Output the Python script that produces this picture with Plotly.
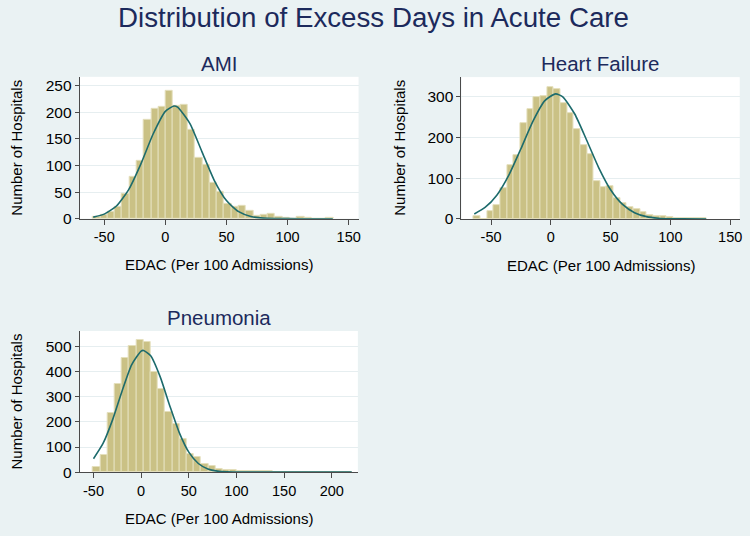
import numpy as np
import plotly.graph_objects as go

# ---------------- data ----------------
panels = ["AMI", "Heart Failure", "Pneumonia"]

# histogram bins: first bin left edge and bin width (EDAC units)
ami_bin_start, ami_bin_width = -59.2, 5.96
hf_bin_start, hf_bin_width = -64.3, 5.56
pn_bin_start, pn_bin_width = -50.4, 7.55

ami_counts = [4, 8, 13, 22, 47, 79, 109, 186, 207, 210, 241, 212, 214, 167, 114, 101,
              68, 51, 28, 23, 25, 15, 6, 8, 9, 4, 1, 0.5, 3, 1, 0, 0, 1]
hf_counts = [8, 0, 20, 35, 75, 131, 156, 234, 270, 298, 302, 324, 319, 285, 260, 221,
             182, 158, 93, 77, 80, 50, 40, 30, 23, 18, 10, 8, 6, 4, 3, 3, 2, 2, 3]
pn_counts = [22, 67, 236, 350, 453, 503, 524, 518, 398, 332, 241, 190, 130, 73, 60, 34,
             24, 14, 10, 7, 6, 5, 4, 3, 3, 2, 2, 2, 1, 2, 1, 1, 1, 1, 1, 1]

# normal-density overlay, points
ami_curve_x = [-59, -50, -40, -30, -20, -10, 0, 7, 10, 20, 30, 40, 50, 60, 70, 80, 90, 100, 120, 137]
ami_curve_y = [2.9, 8.6, 23.9, 54.8, 103.2, 159.4, 202, 212, 210, 179.4, 125.8, 72.3, 34.1, 13.2, 4.2, 1.1, 0.24, 0.04, 0, 0]
hf_curve_x = [-64, -55, -45, -35, -25, -15, -5, 4, 10, 20, 30, 40, 50, 60, 70, 80, 90, 100, 110, 130]
hf_curve_y = [12.4, 28.2, 59.1, 108.2, 172.4, 239.6, 290.4, 307, 299.5, 257.5, 193.1, 126.2, 71.8, 35.7, 15.5, 5.85, 1.9, 0.55, 0.14, 0]
pn_curve_x = [-50, -40, -30, -20, -10, 0, 2.5, 10, 20, 30, 40, 50, 60, 70, 80, 90, 100, 120, 160, 221]
pn_curve_y = [53.4, 114, 208, 323, 427, 481.6, 484, 462.7, 378.8, 264.3, 157.2, 79.6, 34.4, 12.6, 4.0, 1.06, 0.24, 0, 0, 0]

x_ticks_ami = [-50, 0, 50, 100, 150]
x_ticks_hf = [-50, 0, 50, 100, 150]
x_ticks_pn = [-50, 0, 50, 100, 150, 200]
y_ticks_ami = [0, 50, 100, 150, 200, 250]
y_ticks_hf = [0, 100, 200, 300]
y_ticks_pn = [0, 100, 200, 300, 400, 500]

main_title = "Distribution of Excess Days in Acute Care"
x_title = "EDAC (Per 100 Admissions)"
y_title = "Number of Hospitals"

# ---------------- styling ----------------
W, H = 750, 536
BG = "#EAF2F3"
BAR = "#CAC185"
BAR_LINE = "#E4DFBC"
CURVE = "#1D6B6C"
NAVY = "#1C2A5C"
AXIS = "#4A4A4A"
GRID = "#E6EEF0"
FONT = "Liberation Sans, Arial, sans-serif"

# plot areas in pixels: (left, right, top, bottom)
boxes = [(80, 360, 78, 222), (463.3, 742.7, 78.3, 222.3), (80, 359.3, 336, 479.3)]
x_ranges = [[-70.1, 158.1], [-74.75, 158.0], [-64.5, 227.4]]
y_ranges = [[0, 267], [0, 348], [0, 561.5]]

series = [
    (ami_bin_start, ami_bin_width, ami_counts, ami_curve_x, ami_curve_y, x_ticks_ami, y_ticks_ami),
    (hf_bin_start, hf_bin_width, hf_counts, hf_curve_x, hf_curve_y, x_ticks_hf, y_ticks_hf),
    (pn_bin_start, pn_bin_width, pn_counts, pn_curve_x, pn_curve_y, x_ticks_pn, y_ticks_pn),
]

fig = go.Figure()
annotations = []
layout_axes = {}

for i, (start, width, counts, cx, cy, xt, yt) in enumerate(series):
    n = "" if i == 0 else str(i + 1)
    centers = start + width * (np.arange(len(counts)) + 0.5)
    fig.add_trace(go.Bar(
        x=centers, y=counts, width=width,
        marker=dict(color=BAR, line=dict(color=BAR_LINE, width=1)),
        xaxis="x" + n, yaxis="y" + n, showlegend=False, hoverinfo="skip"))
    fig.add_trace(go.Scatter(
        x=cx, y=cy, mode="lines", line=dict(color=CURVE, width=1.6, shape="spline", smoothing=0.6),
        xaxis="x" + n, yaxis="y" + n, showlegend=False, hoverinfo="skip"))

    l, r, t, b = boxes[i]
    layout_axes["xaxis" + n] = dict(
        domain=[l / W, r / W], range=x_ranges[i], anchor="y" + n,
        tickvals=xt, ticktext=[str(v) for v in xt],
        ticks="outside", ticklen=5, tickcolor=AXIS, tickwidth=1,
        showline=True, linecolor=AXIS, linewidth=1, showgrid=False, zeroline=False,
        tickfont=dict(family=FONT, size=14.5, color="black"))
    layout_axes["yaxis" + n] = dict(
        domain=[1 - b / H, 1 - t / H], range=y_ranges[i], anchor="x" + n,
        tickvals=yt, ticktext=[str(v) for v in yt],
        ticks="outside", ticklen=4, tickcolor=AXIS, tickwidth=1,
        showline=True, linecolor=AXIS, linewidth=1, showgrid=True, gridcolor=GRID,
        gridwidth=1, zeroline=False,
        tickfont=dict(family=FONT, size=15.5, color="black"))

    cxp = (l + r) / 2 / W
    annotations.append(dict(text=panels[i], x=cxp, y=1 - (t - 14) / H, xref="paper", yref="paper",
                            showarrow=False, xanchor="center", yanchor="middle",
                            font=dict(family=FONT, size=20.5, color=NAVY)))
    annotations.append(dict(text=x_title, x=cxp, y=1 - (b + 47) / H, xref="paper", yref="paper",
                            showarrow=False, xanchor="center", yanchor="middle",
                            font=dict(family=FONT, size=15, color="black")))
    annotations.append(dict(text=y_title, x=(l - 63) / W, y=1 - (t + b) / 2 / H, xref="paper", yref="paper",
                            showarrow=False, xanchor="center", yanchor="middle", textangle=-90,
                            font=dict(family=FONT, size=15, color="black")))

annotations.append(dict(text=main_title, x=0.5, y=1 - 18 / H, xref="paper", yref="paper",
                        showarrow=False, xanchor="center", yanchor="middle",
                        font=dict(family=FONT, size=27.7, color=NAVY)))

fig.update_layout(
    width=W, height=H, margin=dict(l=0, r=0, t=0, b=0),
    paper_bgcolor=BG, plot_bgcolor="white", bargap=0,
    annotations=annotations, **layout_axes)

fig.write_html("out.html", config={"displayModeBar": False},
               post_script="document.body.style.margin='0px';document.body.style.background='" + BG + "';")
